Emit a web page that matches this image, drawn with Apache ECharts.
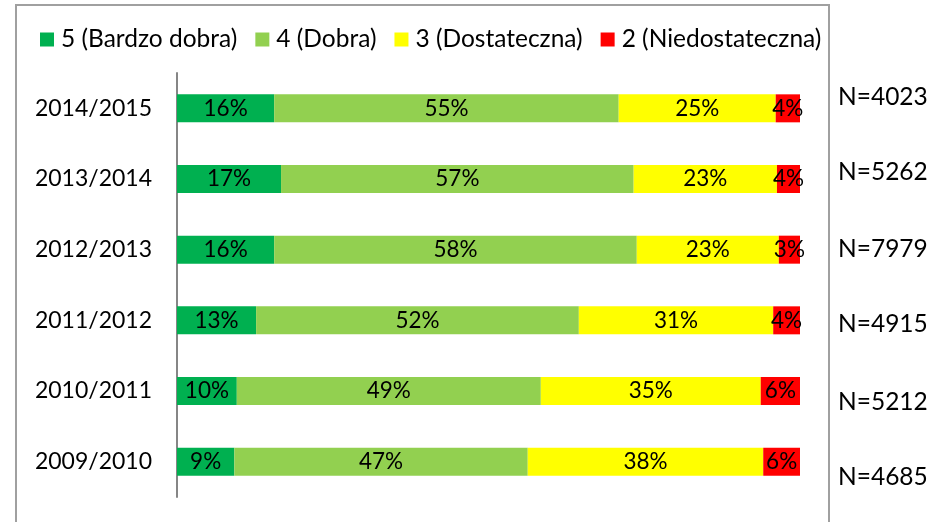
<!DOCTYPE html>
<html>
<head>
<meta charset="utf-8">
<script src="https://cdn.jsdelivr.net/npm/echarts@6/dist/echarts.min.js"></script>
<style>html,body{margin:0;padding:0;background:#fff}#c{width:945px;height:522px}</style>
</head>
<body>
<div id="c"></div>
<script>
var categories = ['2014/2015','2013/2014','2012/2013','2011/2012','2010/2011','2009/2010'];
var seriesNames = ['5 (Bardzo dobra)','4 (Dobra)','3 (Dostateczna)','2 (Niedostateczna)'];
var grade5 = [15.6, 16.7, 15.6, 12.7, 9.6, 9.2];
var grade4 = [55.3, 56.6, 58.2, 51.8, 48.8, 47.1];
var grade3 = [25.2, 23.0, 22.8, 31.2, 35.3, 37.8];
var grade2 = [3.9, 3.7, 3.4, 4.3, 6.3, 5.9];
var nLabels = ['N=4023','N=5262','N=7979','N=4915','N=5212','N=4685'];
var colors = ['#00B050','#92D050','#FFFF00','#FF0000'];

var FONT = 'Lato';
var values = [grade5, grade4, grade3, grade2];
var series = values.map(function(v, i){
  return {
    name: seriesNames[i], type: 'bar', stack: 'total', data: v,
    barWidth: 28,
    itemStyle: {color: colors[i]},
    label: {show: true, position: 'inside', color: '#000', fontFamily: FONT, fontSize: 22.5,
      formatter: function(p){ return Math.round(p.value) + '%'; }},
    emphasis: {disabled: true}
  };
});

var nY = [100, 175, 252, 327, 405, 480];
var graphic = [{
  type: 'rect', shape: {x: 16, y: 5, width: 813, height: 530},
  style: {fill: 'none', stroke: '#A0A0A0', lineWidth: 2}, silent: true
}];
nLabels.forEach(function(t, i){
  graphic.push({type: 'text', left: 838, top: nY[i] - 15,
    style: {text: t, fill: '#000', font: '24.5px ' + FONT}});
});

var chart = echarts.init(document.getElementById('c'));
chart.setOption({
  animation: false,
  legend: {
    data: seriesNames, left: 35, top: 22, itemWidth: 14, itemHeight: 14, itemGap: 18,
    icon: 'rect',
    textStyle: {fontFamily: FONT, fontSize: 24.5, color: '#000', padding: [0,0,0,2]}
  },
  grid: {left: 177, right: 145, top: 73, bottom: 25},
  xAxis: {type: 'value', min: 0, max: 100, show: false},
  yAxis: {
    type: 'category', data: categories, inverse: true,
    axisLine: {show: true, lineStyle: {color: '#868686', width: 2}},
    axisTick: {show: false},
    axisLabel: {color: '#000', fontFamily: FONT, fontSize: 23, margin: 25}
  },
  series: series,
  graphic: graphic
});
</script>
</body>
</html>
